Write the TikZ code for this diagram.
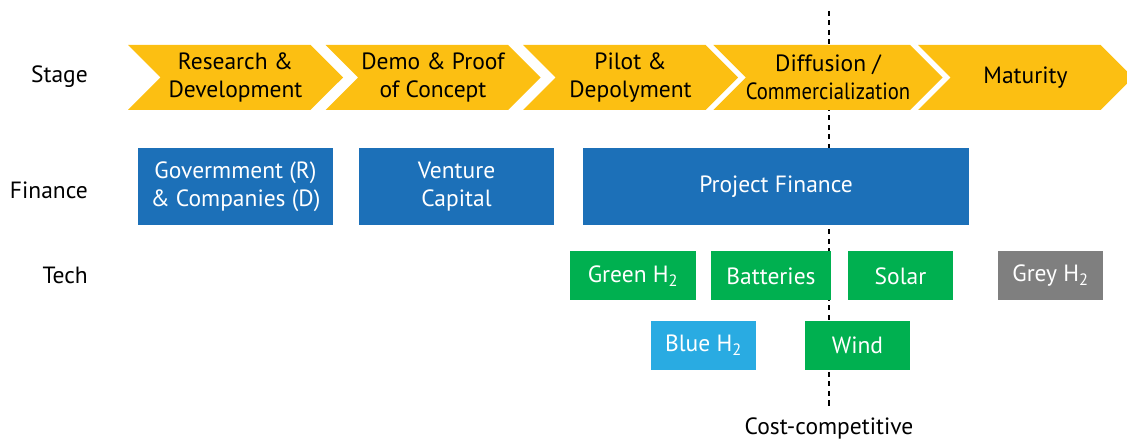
\documentclass[tikz,border=0pt]{standalone}
\usepackage{fontspec}
\setmainfont{PT Sans}
\newfontfamily\narrowfont[FakeStretch=0.88]{PT Sans}
\usetikzlibrary{shapes.symbols,positioning}
\definecolor{stageyellow}{HTML}{FCBF12}
\definecolor{finblue}{HTML}{1C70B8}
\definecolor{techgreen}{HTML}{00B050}
\definecolor{techlblue}{HTML}{29ABE2}
\definecolor{techgrey}{HTML}{7F7F7F}

\begin{document}
\begin{tikzpicture}[
    x=1pt, y=-1pt,
    font=\fontsize{23.5}{28}\selectfont,
    stage/.style={signal, signal from=west, signal to=east, signal pointer angle=90, fill=stageyellow, minimum width=215pt, minimum height=65pt, inner sep=0pt, align=center},
    fin/.style={fill=finblue, text=white, align=center, minimum height=77pt, inner sep=0pt},
    tech/.style={fill=techgreen, text=white, minimum height=49pt, minimum width=105pt, inner sep=0pt},
    rowlabel/.style={anchor=east, inner sep=0pt},
    cutoff/.style={dashed, dash pattern=on 5pt off 4.5pt, line width=2pt}
  ]
    \useasboundingbox (0,0) rectangle (1127,443);

    % cost-competitive line goes behind everything
    \coordinate (top) at (829,11);
    \node (cost) at (829,428) {Cost-competitive};
    \draw[cutoff, shorten >=6pt] (top) -- (cost.north);

    \node[rowlabel] (stagelbl) at (88,77) {Stage};
    \node[rowlabel] (finlbl) at (88,190) {Finance};
    \node[rowlabel] (techlbl) at (88,275) {Tech};

    \node[stage] (rd) at (235.5,77.5) {Research \&\\Development};
    \node[stage] (demo) at (433,77.5) {Demo \& Proof\\of Concept};
    \node[stage] (pilot) at (630.5,77.5) {Pilot \&\\Depolyment};
    \node[stage] (diff) at (828,77.5) {Diffusion /\\{\narrowfont Commercialization}};
    \node[stage] (mat) at (1025.5,77.5) {Maturity};

    \node[fin, minimum width=195pt] (gov) at (235.5,186.5) {Govermment (R)\\\& Companies (D)};
    \node[fin, minimum width=195pt] (vc) at (456.5,186.5) {Venture\\Capital};
    \node[fin, minimum width=386pt] (pf) at (776,186.5) {Project Finance};

    \node[tech, minimum width=126pt] (green) at (633,276) {Green H\textsubscript{2}};
    \node[tech, minimum width=120pt] (batt) at (771,276) {Batteries};
    \node[tech] (solar) at (900.5,276) {Solar};
    \node[tech, fill=techgrey] (grey) at (1050.5,276) {Grey H\textsubscript{2}};
    \node[tech, fill=techlblue] (blue) at (703.5,345.5) {Blue H\textsubscript{2}};
    \node[tech] (wind) at (857.5,345.5) {Wind};
  \end{tikzpicture}
\end{document}
